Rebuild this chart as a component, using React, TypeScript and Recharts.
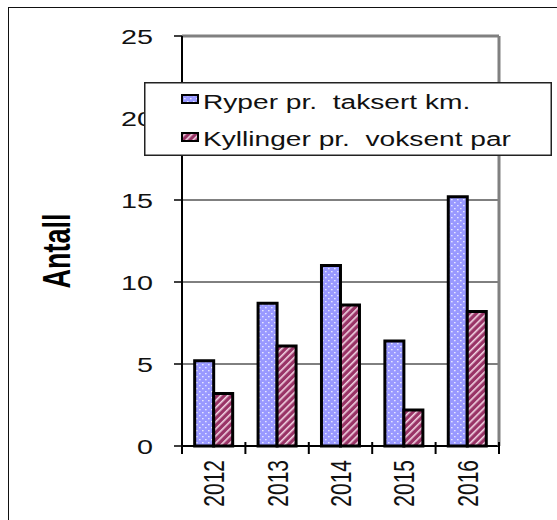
import React from 'react';
import { BarChart, Bar, XAxis, YAxis, CartesianGrid, ReferenceLine, Legend } from 'recharts';

const years = ['2012', '2013', '2014', '2015', '2016'];
const ryper = [5.2, 8.7, 11.0, 6.4, 15.2];
const kyllinger = [3.2, 6.1, 8.6, 2.2, 8.2];
const yTicks = [0, 5, 10, 15, 20, 25];
const gridValues = [5, 10, 15, 20];
const seriesNames = ['Ryper pr.  taksert km.', 'Kyllinger pr.  voksent par'];
const yLabel = 'Antall';

const data = years.map((y, i) => ({ year: y, ryper: ryper[i], kyllinger: kyllinger[i] }));

const W = 557;
const H = 520;
const PLOT_LEFT = 182;
const PLOT_RIGHT = 499;
const PLOT_TOP = 36;
const PLOT_BOTTOM = 446;
const BAND = (PLOT_RIGHT - PLOT_LEFT) / years.length;
const FONT = '"Liberation Sans", Arial, sans-serif';

const YTick = (props: any) => {
  const { y, payload } = props;
  return (
    <text
      transform={`translate(${PLOT_LEFT - 29},${y}) scale(1.37,1)`}
      textAnchor="end"
      dominantBaseline="central"
      fontSize={21}
      fontFamily={FONT}
      fill="#111"
    >
      {payload.value}
    </text>
  );
};

const XTick = (props: any) => {
  const { x, payload, index } = props;
  return (
    <g>
      <line x1={x - BAND / 2} x2={x - BAND / 2} y1={PLOT_BOTTOM - 4} y2={PLOT_BOTTOM + 8} stroke="#000" strokeWidth={2} />
      {index === years.length - 1 && (
        <line x1={x + BAND / 2} x2={x + BAND / 2} y1={PLOT_BOTTOM - 4} y2={PLOT_BOTTOM + 8} stroke="#000" strokeWidth={2} />
      )}
      <text
        transform={`translate(${x},${PLOT_BOTTOM + 14}) scale(1.42,1) rotate(-90)`}
        textAnchor="end"
        dominantBaseline="central"
        fontSize={21}
        fontFamily={FONT}
        fill="#111"
      >
        {payload.value}
      </text>
    </g>
  );
};

const YLabel = () => (
  <text
    transform={`translate(57,251) scale(1.45,1) rotate(-90)`}
    textAnchor="middle"
    dominantBaseline="central"
    fontSize={27}
    fontWeight="bold"
    fontFamily={FONT}
    fill="#000"
  >
    {yLabel}
  </text>
);

const PatternDefs = ({ suffix }: { suffix: string }) => (
  <defs>
    <pattern id={`dots${suffix}`} width="6" height="6" patternUnits="userSpaceOnUse">
      <rect width="6" height="6" fill="#9999ff" />
      <rect x="1" y="1" width="1.6" height="1.3" fill="#e6e6ff" />
      <rect x="4" y="4" width="1.6" height="1.3" fill="#e6e6ff" />
    </pattern>
    <pattern id={`hatch${suffix}`} width="5" height="5" patternUnits="userSpaceOnUse" patternTransform="rotate(45)">
      <rect width="5" height="5" fill="#993366" />
      <rect x="0" y="0" width="1.6" height="5" fill="#f2d6e4" />
    </pattern>
  </defs>
);

const LegendBox = () => {
  const fills = ['url(#dotsL)', 'url(#hatchL)'];
  return (
    <svg width={408} height={74} style={{ display: 'block' }}>
      <PatternDefs suffix="L" />
      <rect x={0.75} y={0.75} width={406.5} height={72.5} fill="#fff" stroke="#222" strokeWidth={1.5} />
      {seriesNames.map((name, i) => (
        <g key={name}>
          <rect x={38} y={13 + i * 38} width={16} height={8} fill={fills[i]} stroke="#000" strokeWidth={2} />
          <text
            transform={`translate(59,${26.5 + i * 37.7}) scale(1.34,1)`}
            fontSize={21}
            fontFamily={FONT}
            fill="#111"
            style={{ whiteSpace: 'pre' }}
          >
            {name}
          </text>
        </g>
      ))}
    </svg>
  );
};

export default function App() {
  return (
    <div style={{ position: 'absolute', left: 0, top: 0, width: W, height: H, background: '#fff' }}>
      <div
        style={{
          position: 'absolute',
          left: 8,
          top: 7,
          width: W - 8,
          height: H - 7,
          borderLeft: '1.5px solid #111',
          borderTop: '1.5px solid #111',
          boxSizing: 'border-box',
        }}
      />
      <div style={{ position: 'absolute', left: 0, top: 0 }}>
        <BarChart
          width={W}
          height={H}
          data={data}
          margin={{ top: PLOT_TOP, right: W - PLOT_RIGHT - 1, bottom: 0, left: 0 }}
          barCategoryGap="20%"
          barGap={0}
        >
          <PatternDefs suffix="" />
          <CartesianGrid vertical={false} horizontalValues={gridValues} stroke="#000" strokeWidth={1} />
          <XAxis
            dataKey="year"
            height={H - PLOT_BOTTOM}
            axisLine={{ stroke: '#000', strokeWidth: 2 }}
            tickLine={false}
            tick={<XTick />}
            interval={0}
          />
          <YAxis
            width={PLOT_LEFT}
            domain={[0, 25]}
            ticks={yTicks}
            interval={0}
            axisLine={{ stroke: '#000', strokeWidth: 2 }}
            tickLine={{ stroke: '#000', strokeWidth: 1.5 }}
            tickSize={8}
            tick={<YTick />}
            label={<YLabel />}
          />
          <YAxis
            yAxisId="r"
            orientation="right"
            width={1}
            domain={[0, 25]}
            axisLine={{ stroke: '#808080', strokeWidth: 3 }}
            tick={false}
            tickLine={false}
          />
          <ReferenceLine y={25} stroke="#808080" strokeWidth={3} />
          <Bar dataKey="ryper" name={seriesNames[0]} fill="url(#dots)" stroke="#000" strokeWidth={3} isAnimationActive={false} />
          <Bar dataKey="kyllinger" name={seriesNames[1]} fill="url(#hatch)" stroke="#000" strokeWidth={3} isAnimationActive={false} />
          <Legend
            layout="horizontal"
            verticalAlign="middle"
            align="center"
            content={() => <LegendBox />}
            wrapperStyle={{ position: 'absolute', left: 144, top: 82, width: 408, height: 74 }}
          />
        </BarChart>
      </div>
    </div>
  );
}
